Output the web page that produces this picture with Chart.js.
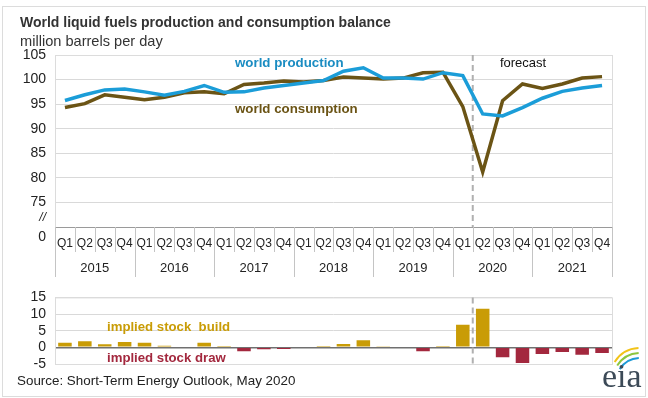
<!DOCTYPE html>
<html>
<head>
<meta charset="utf-8">
<script src="https://cdn.jsdelivr.net/npm/chart.js@4.4.1/dist/chart.umd.min.js"></script>
<style>
	body { margin: 0; background: #fff; font-family: "Liberation Sans", Arial, sans-serif; }
	#wrap { position: relative; width: 648px; height: 398px; overflow: hidden; }
	#frame { position: absolute; left: 2px; top: 6px; width: 642px; height: 389px; border: 1px solid #dcdcdc; }
	.txt { position: absolute; white-space: nowrap; color: #333; line-height: 18px; }
	#title { left: 20px; top: 13px; font-size: 14px; font-weight: bold; }
	#sub { left: 20px; top: 32px; font-size: 14.6px; }
	#source { left: 17px; top: 372px; font-size: 13.4px; color: #222; }
	#topBox { position: absolute; left: 0; top: 0; width: 648px; height: 285px; }
	#botBox { position: absolute; left: 0; top: 280px; width: 648px; height: 118px; }
</style>
</head>
<body>
<div id="wrap">
	<div id="frame"></div>
	<div id="topBox"><canvas id="topChart" width="648" height="285"></canvas></div>
	<div id="botBox"><canvas id="botChart" width="648" height="118"></canvas></div>
	<div class="txt" id="title">World liquid fuels production and consumption balance</div>
	<div class="txt" id="sub">million barrels per day</div>
	<div class="txt" id="source">Source: Short-Term Energy Outlook, May 2020</div>
</div>
<script>
// data
const quarters = ['Q1','Q2','Q3','Q4','Q1','Q2','Q3','Q4','Q1','Q2','Q3','Q4','Q1','Q2','Q3','Q4',
	'Q1','Q2','Q3','Q4','Q1','Q2','Q3','Q4','Q1','Q2','Q3','Q4'];
const years = ['2015','2016','2017','2018','2019','2020','2021'];
const production = [95.75, 96.9, 97.9, 98.1, 97.5, 96.8, 97.6, 98.8, 97.4, 97.5, 98.3, 98.8, 99.3, 99.8,
	101.7, 102.4, 100.3, 100.3, 100.1, 101.4, 100.8, 93.0, 92.6, 94.3, 96.2, 97.6, 98.3, 98.8];
const consumption = [94.3, 95.1, 96.9, 96.4, 95.9, 96.4, 97.3, 97.5, 97.1, 99.0, 99.3, 99.7, 99.5, 99.8,
	100.5, 100.3, 100.1, 100.3, 101.4, 101.5, 94.5, 81.2, 95.7, 99.1, 98.2, 99.1, 100.3, 100.6];
const stockChange = [1.4, 1.8, 0.9, 1.6, 1.4, 0.5, 0, 1.4, 0.1, -1.2, -0.6, -0.5, 0, 0.1,
	1.0, 2.1, 0.3, 0, -1.2, 0.1, 6.8, 11.6, -3.0, -4.7, -2.0, -1.4, -2.2, -1.7];
const topTicks = [75, 80, 85, 90, 95, 100, 105];
const botTicks = [-5, 0, 5, 10, 15];
const forecastStart = 21; // first forecast quarter (2020 Q2)

const FONT = '"Liberation Sans", Arial, sans-serif';
Chart.defaults.font.family = FONT;
Chart.defaults.color = '#222';

const BLUE = '#1b9dd8';
const BROWN = '#6b5415';
const GOLD = '#c99c06';
const RED = '#a3283e';

// dashed forecast divider
function drawDivider(chart) {
	const xs = chart.scales.x;
	const ca = chart.chartArea;
	const x = (xs.getPixelForValue(forecastStart - 1) + xs.getPixelForValue(forecastStart)) / 2;
	const c = chart.ctx;
	c.save();
	c.strokeStyle = '#b0b0b0';
	c.lineWidth = 2;
	c.setLineDash([6, 4]);
	c.beginPath();
	c.moveTo(x, ca.top);
	c.lineTo(x, ca.bottom);
	c.stroke();
	c.restore();
}

function drawFrame(chart) {
	const ca = chart.chartArea;
	const c = chart.ctx;
	c.save();
	c.strokeStyle = '#dcdcdc';
	c.lineWidth = 1;
	c.strokeRect(ca.left + 0.5, ca.top + 0.5, ca.right - ca.left, ca.bottom - ca.top);
	c.restore();
}

function label(c, text, x, y, font, color, align) {
	c.font = font;
	c.fillStyle = color;
	c.textAlign = align || 'left';
	c.textBaseline = 'middle';
	c.fillText(text, x, y);
}

const topDecor = {
	id: 'topDecor',
	beforeDatasetsDraw(chart) {
		drawFrame(chart);
		drawDivider(chart);
	},
	afterDraw(chart) {
		const c = chart.ctx;
		const ca = chart.chartArea;
		const xs = chart.scales.x;
		const half = (xs.getPixelForValue(1) - xs.getPixelForValue(0)) / 2;
		c.save();
		// axis line
		c.strokeStyle = '#9a9a9a';
		c.lineWidth = 1;
		c.beginPath();
		c.moveTo(ca.left, ca.bottom + 0.5);
		c.lineTo(ca.right, ca.bottom + 0.5);
		c.stroke();
		// cell separators
		c.strokeStyle = '#c4c4c4';
		for (let i = 0; i <= quarters.length; i++) {
			const bx = Math.round(xs.getPixelForValue(0) - half + i * 2 * half) + 0.5;
			c.beginPath();
			c.moveTo(bx, ca.bottom);
			c.lineTo(bx, ca.bottom + (i % 4 === 0 ? 50 : 25));
			c.stroke();
		}
		// years
		years.forEach((yr, k) => {
			const cx = (xs.getPixelForValue(k * 4) + xs.getPixelForValue(k * 4 + 3)) / 2;
			label(c, yr, cx, ca.bottom + 41, '13px ' + FONT, '#222', 'center');
		});
		// broken axis marks
		label(c, '//', 46, ca.bottom - 9, 'italic 12px ' + FONT, '#222', 'right');
		label(c, '0', 46, ca.bottom + 10, '14px ' + FONT, '#222', 'right');
		// series labels
		label(c, 'world production', 235, 63, 'bold 13.3px ' + FONT, '#1a8cc2');
		label(c, 'world consumption', 235, 109, 'bold 13.3px ' + FONT, BROWN);
		label(c, 'forecast', 523, 63, '13px ' + FONT, '#111', 'center');
		c.restore();
	}
};

new Chart(document.getElementById('topChart'), {
	type: 'line',
	data: {
		labels: quarters,
		datasets: [
			{ label: 'world production', data: production, borderColor: BLUE, borderWidth: 3.5, pointRadius: 0, tension: 0 },
			{ label: 'world consumption', data: consumption, borderColor: BROWN, borderWidth: 3.5, pointRadius: 0, tension: 0 }
		]
	},
	options: {
		responsive: false,
		animation: false,
		layout: { padding: { top: 55, right: 36, bottom: 8, left: 0 } },
		plugins: { legend: { display: false }, tooltip: { enabled: false } },
		scales: {
			x: {
				offset: true,
				grid: { display: false },
				border: { display: false },
				ticks: { autoSkip: false, maxRotation: 0, padding: 1, font: { size: 12 }, color: '#222' },
				afterFit: (s) => { s.height = 50; }
			},
			y: {
				min: 70,
				max: 105,
				afterBuildTicks: (s) => { s.ticks = [70].concat(topTicks).map(v => ({ value: v })); },
				grid: { drawTicks: false, color: (ctx) => ctx.tick.value === 70 ? 'rgba(0,0,0,0)' : '#d9d9d9' },
				border: { display: false },
				ticks: { autoSkip: false, padding: 9, font: { size: 14 }, color: '#222', callback: (v) => v === 70 ? '' : v },
				afterFit: (s) => { s.width = 55; }
			}
		}
	},
	plugins: [topDecor]
});

const botDecor = {
	id: 'botDecor',
	beforeDatasetsDraw(chart) {
		drawFrame(chart);
		drawDivider(chart);
	},
	afterDraw(chart) {
		const c = chart.ctx;
		c.save();
		label(c, 'implied stock  build', 107, 47, 'bold 13.2px ' + FONT, GOLD);
		label(c, 'implied stock draw', 107, 78, 'bold 13.2px ' + FONT, RED);
		// eia logo
		const arcs = ['#f2c318', '#8cc63f', '#1e9ad6'];
		arcs.forEach((col, k) => {
			c.strokeStyle = col;
			c.lineWidth = 2;
			c.beginPath();
			c.arc(640, 98 + k * 2, 30 - k * 3, Math.PI * 1.18, Math.PI * 1.5 - 0.05);
			c.stroke();
		});
		c.font = '34px "Liberation Serif", "DejaVu Serif", serif';
		c.fillStyle = '#3c4a57';
		c.textAlign = 'left';
		c.textBaseline = 'alphabetic';
		c.fillText('eia', 602, 107);
		c.restore();
	}
};

new Chart(document.getElementById('botChart'), {
	type: 'bar',
	data: {
		labels: quarters,
		datasets: [{
			label: 'implied stock change',
			data: stockChange,
			backgroundColor: (ctx) => ctx.raw >= 0 ? GOLD : RED,
			barPercentage: 0.68,
			categoryPercentage: 1.0
		}]
	},
	options: {
		responsive: false,
		animation: false,
		layout: { padding: { top: 10, right: 36, bottom: 34, left: 0 } },
		plugins: { legend: { display: false }, tooltip: { enabled: false } },
		scales: {
			x: { display: false, offset: true },
			y: {
				min: -5,
				max: 15,
				afterBuildTicks: (s) => { s.ticks = botTicks.map(v => ({ value: v })); },
				grid: { drawTicks: false, color: (ctx) => ctx.tick.value === 0 ? '#707070' : '#d9d9d9', lineWidth: (ctx) => ctx.tick.value === 0 ? 1.5 : 1 },
				border: { display: false },
				ticks: { autoSkip: false, padding: 9, font: { size: 14 }, color: '#222' },
				afterFit: (s) => { s.width = 55; }
			}
		}
	},
	plugins: [botDecor]
});
</script>
</body>
</html>
